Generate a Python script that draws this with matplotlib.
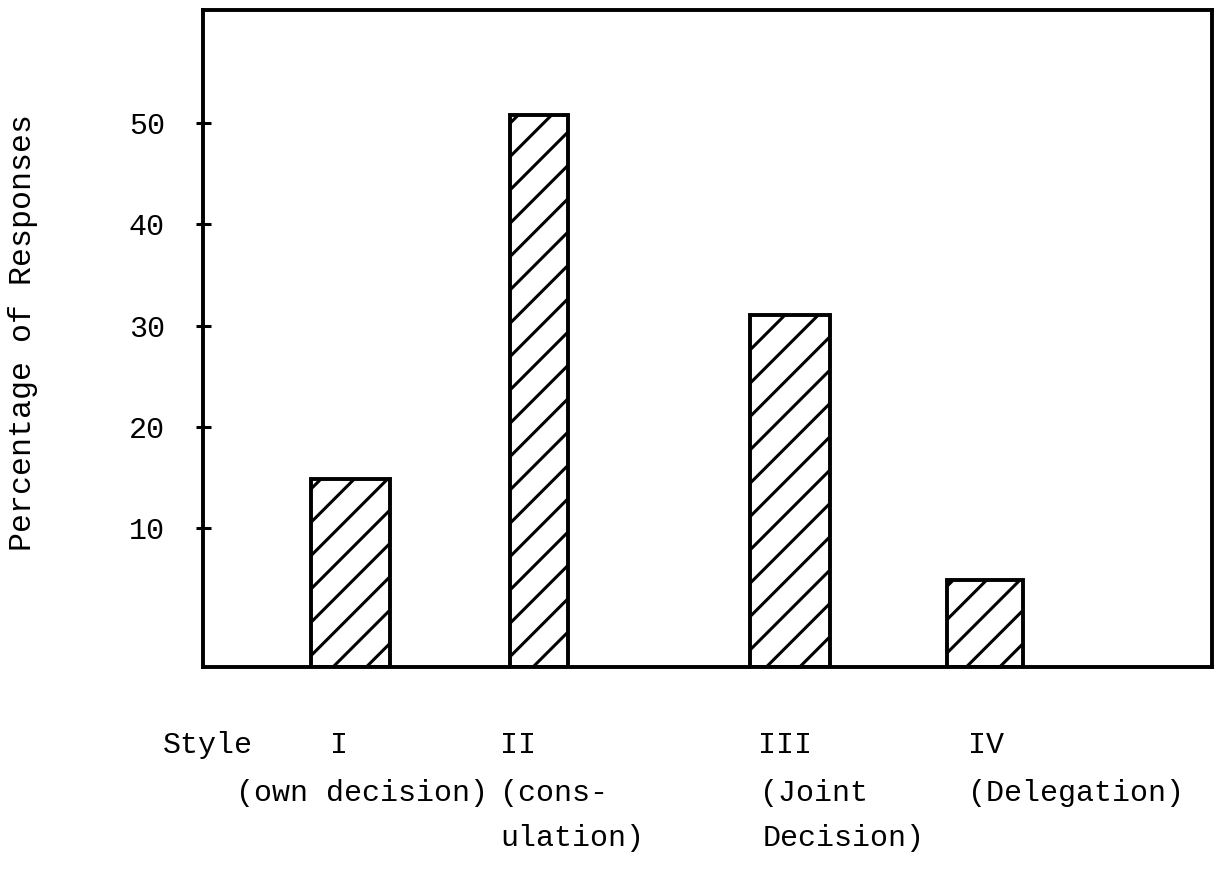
import matplotlib
matplotlib.use("Agg")
import matplotlib.pyplot as plt

# data
styles = ["I", "II", "III", "IV"]
percent = [14.8, 50.8, 31.0, 4.9]
y_ticks = [10, 20, 30, 40, 50]

# layout of the hand-drawn bars (axis units across the frame)
bar_x = [147.5, 336.0, 587.0, 782.0]
bar_w = [79, 58, 80, 76]
y_lo, y_hi = -3.75, 61.2

DPI = 200
plt.rcParams['font.family'] = ['Liberation Mono', 'DejaVu Sans Mono']
plt.rcParams['hatch.linewidth'] = 1.1
plt.rcParams['hatch.color'] = 'black'

fig = plt.figure(figsize=(1220 / DPI, 893 / DPI), dpi=DPI)
ax = fig.add_axes([203 / 1220, 1 - 667 / 893, 1009 / 1220, 657 / 893])

ax.bar(bar_x, [p - y_lo for p in percent], width=bar_w, bottom=y_lo,
       color='white', edgecolor='black', linewidth=1.4, hatch='//')

ax.set_xlim(0, 1009)
ax.set_ylim(y_lo, y_hi)
ax.set_xticks([])
ax.set_yticks(y_ticks)
ax.set_yticklabels([str(t) for t in y_ticks], fontsize=10.8)
ax.tick_params(axis='y', direction='inout', length=5.4, width=1.1, pad=11)
for s in ax.spines.values():
    s.set_linewidth(1.4)

fig.text(23 / 1220, 1 - 332 / 893, "Percentage of Responses", rotation=90,
         ha='center', va='center', fontsize=11.4)

# category labels under the axis, typed in rows like the original
def put(x, y, s):
    fig.text(x / 1220, 1 - y / 893, s, ha='left', va='center', fontsize=10.8)

put(163, 745, "Style")
put(330, 745, styles[0])
put(500, 745, styles[1])
put(758, 745, styles[2])
put(968, 745, styles[3])
put(236, 793, "(own decision)")
put(500, 793, "(cons-")
put(760, 793, "(Joint")
put(968, 793, "(Delegation)")
put(500, 838, "ulation)")
put(763, 838, "Decision)")

fig.savefig("out.png", dpi=DPI)
